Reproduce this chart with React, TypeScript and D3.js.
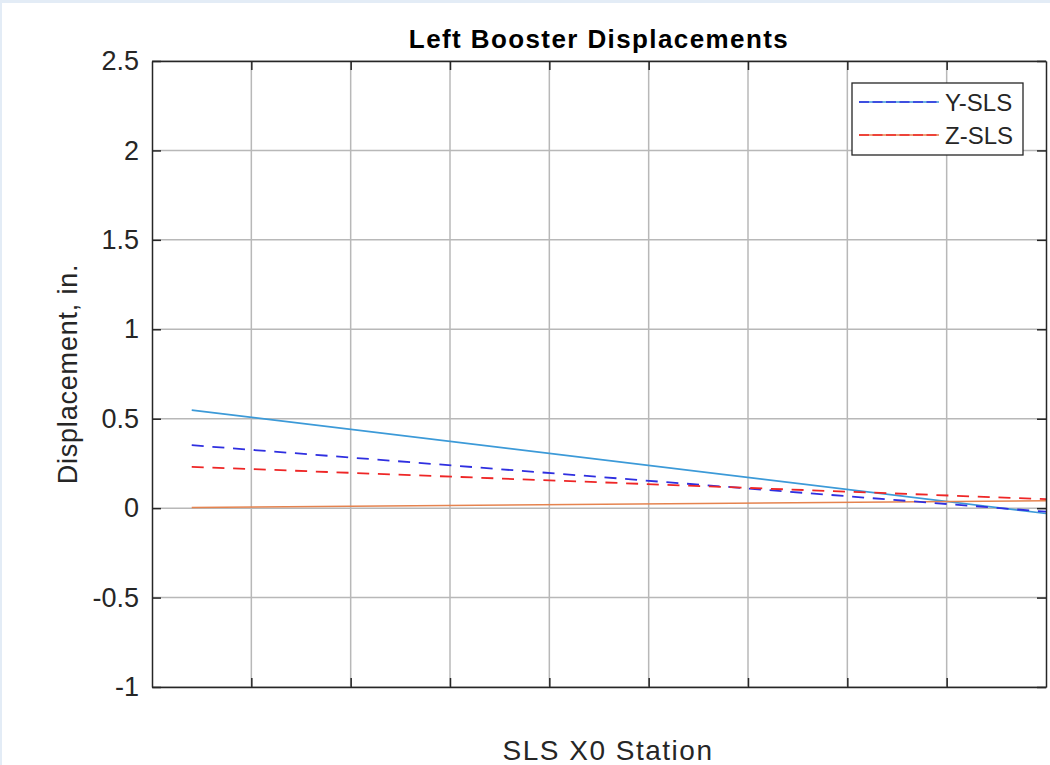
import React, { useRef, useEffect } from "react";
import * as d3 from "d3";

// stations along booster (no labels shown on the axis)
const stations = [0.4, 9];
// solid = light tone, dashed = dark tone
const ySolid = [0.548, -0.03];
const yDashed = [0.352, -0.02];
const zSolid = [0.004, 0.041];
const zDashed = [0.231, 0.05];

const yTicks = [-1, -0.5, 0, 0.5, 1, 1.5, 2, 2.5];
const xTicks = [1, 2, 3, 4, 5, 6, 7, 8];
const legendNames = ["Y-SLS", "Z-SLS"];

const FONT = "'Liberation Sans', Arial, Helvetica, sans-serif";

export default function App() {
  const svgRef = useRef<SVGSVGElement>(null);

  useEffect(() => {
    const svg = d3.select(svgRef.current);
    const width = 1050;
    const height = 765;
    svg.selectAll("*").remove();

    const left = 152, right = 1046, top = 61, bottom = 687;

    // page frame (light blue strip at top and left)
    svg.append("rect").attr("width", width).attr("height", height).attr("fill", "#e3ecf6");
    svg.append("rect").attr("x", 2).attr("y", 3).attr("width", width - 2).attr("height", height - 3).attr("fill", "#fff");

    const x = d3.scaleLinear().domain([0, 9]).range([left, right]);
    const y = d3.scaleLinear().domain([-1, 2.5]).range([bottom, top]);

    // grid
    const grid = svg.append("g").attr("stroke", "#b8b8b8").attr("stroke-width", 1.5);
    grid.selectAll("line.gx").data(xTicks).join("line")
      .attr("x1", d => x(d)).attr("x2", d => x(d)).attr("y1", top).attr("y2", bottom);
    grid.selectAll("line.gy").data(yTicks).join("line")
      .attr("y1", d => y(d)).attr("y2", d => y(d)).attr("x1", left).attr("x2", right);

    // lines
    svg.append("defs").append("clipPath").attr("id", "plotclip")
      .append("rect").attr("x", left).attr("y", top).attr("width", right - left).attr("height", bottom - top);

    const line = d3.line<number>().x((_, i) => x(stations[i])).y(d => y(d));
    const series = [
      { v: ySolid, color: "#3c9ad8", dash: null },
      { v: zSolid, color: "#e5834f", dash: null },
      { v: yDashed, color: "#2f2fe0", dash: "12,8.7" },
      { v: zDashed, color: "#ee2626", dash: "12,8.7" },
    ];
    svg.append("g").attr("clip-path", "url(#plotclip)")
      .selectAll("path").data(series).join("path")
      .attr("d", d => line(d.v))
      .attr("fill", "none")
      .attr("stroke", d => d.color)
      .attr("stroke-width", d => (d.dash ? 1.8 : 1.6))
      .attr("stroke-dasharray", d => d.dash);

    // axes (box with inward ticks)
    const axisColor = "#262626";
    const styleAxis = (g: any) => {
      g.select(".domain").attr("stroke", axisColor).attr("stroke-width", 1.5);
      g.selectAll(".tick line").attr("stroke", axisColor).attr("stroke-width", 1.5);
      g.selectAll(".tick text").attr("fill", axisColor).style("font-family", FONT).style("font-size", "27px");
    };

    svg.append("g").attr("transform", `translate(${left},0)`)
      .call(d3.axisLeft(y).tickValues(yTicks).tickSizeInner(-9).tickSizeOuter(0).tickPadding(13).tickFormat(d => String(d)))
      .call(styleAxis);
    svg.append("g").attr("transform", `translate(${right},0)`)
      .call(d3.axisRight(y).tickValues(yTicks).tickSizeInner(-9).tickSizeOuter(0).tickFormat(() => ""))
      .call(styleAxis);
    svg.append("g").attr("transform", `translate(0,${bottom})`)
      .call(d3.axisBottom(x).tickValues(xTicks).tickSizeInner(-9).tickSizeOuter(0).tickFormat(() => ""))
      .call(styleAxis);
    svg.append("g").attr("transform", `translate(0,${top})`)
      .call(d3.axisTop(x).tickValues(xTicks).tickSizeInner(-9).tickSizeOuter(0).tickFormat(() => ""))
      .call(styleAxis);

    // title
    svg.append("text")
      .attr("x", (left + right) / 2)
      .attr("y", 48)
      .attr("text-anchor", "middle")
      .style("font-family", FONT)
      .style("font-size", "26px")
      .style("font-weight", "bold")
      .style("letter-spacing", "1.4px")
      .attr("fill", "#000")
      .text("Left Booster Displacements");

    // axis labels
    svg.append("text")
      .attr("transform", `translate(77,${(top + bottom) / 2}) rotate(-90)`)
      .attr("text-anchor", "middle")
      .style("font-family", FONT)
      .style("font-size", "27px")
      .style("letter-spacing", "0.8px")
      .attr("fill", axisColor)
      .text("Displacement, in.");

    svg.append("text")
      .attr("x", 608)
      .attr("y", 760)
      .attr("text-anchor", "middle")
      .style("font-family", FONT)
      .style("font-size", "28px")
      .style("letter-spacing", "1.5px")
      .attr("fill", axisColor)
      .text("SLS X0 Station");

    // legend
    const lg = svg.append("g");
    lg.append("rect").attr("x", 852).attr("y", 83).attr("width", 171).attr("height", 72)
      .attr("fill", "#fff").attr("stroke", axisColor).attr("stroke-width", 1.3);
    const legendColors = [["#3c9ad8", "#2f2fe0"], ["#e5834f", "#ee2626"]];
    legendNames.forEach((name, i) => {
      const ly = 102 + i * 33;
      lg.append("line").attr("x1", 859).attr("x2", 939).attr("y1", ly).attr("y2", ly)
        .attr("stroke", legendColors[i][0]).attr("stroke-width", 1.6);
      lg.append("line").attr("x1", 859).attr("x2", 939).attr("y1", ly).attr("y2", ly)
        .attr("stroke", legendColors[i][1]).attr("stroke-width", 1.6).attr("stroke-dasharray", "10,3.5");
      lg.append("text").attr("x", 945).attr("y", ly + 9)
        .style("font-family", FONT).style("font-size", "24px")
        .attr("fill", axisColor).text(name);
    });
  }, []);

  return (
    <svg
      ref={svgRef}
      width={1050}
      height={765}
      style={{ position: "absolute", left: 0, top: 0, display: "block" }}
    />
  );
}
